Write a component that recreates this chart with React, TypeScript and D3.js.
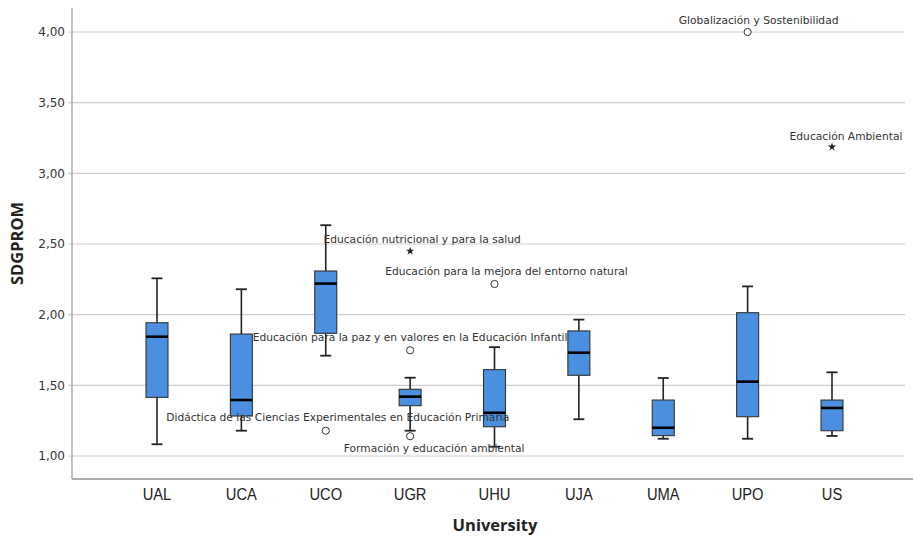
import React from "react";
import * as d3 from "d3";

const universities = ["UAL", "UCA", "UCO", "UGR", "UHU", "UJA", "UMA", "UPO", "US"];
const whiskerLow = [1.083, 1.179, 1.71, 1.179, 1.066, 1.26, 1.122, 1.122, 1.142];
const q1 = [1.415, 1.283, 1.868, 1.356, 1.207, 1.571, 1.144, 1.278, 1.179];
const median = [1.844, 1.396, 2.22, 1.42, 1.306, 1.731, 1.2, 1.526, 1.34];
const q3 = [1.943, 1.863, 2.309, 1.472, 1.611, 1.885, 1.396, 2.014, 1.396];
const whiskerHigh = [2.257, 2.18, 2.633, 1.554, 1.77, 1.965, 1.552, 2.2, 1.592];

const outlierUniversity = ["UCO", "UGR", "UGR", "UGR", "UHU", "UPO", "US"];
const outlierValue = [1.179, 2.45, 1.748, 1.14, 2.217, 4.0, 3.187];
const outlierKind = ["circle", "star", "circle", "circle", "circle", "circle", "star"];
const outlierLabel = [
  "Didáctica de las Ciencias Experimentales en Educación Primaria",
  "Educación nutricional y para la salud",
  "Educación para la paz y en valores en la Educación Infantil",
  "Formación y educación ambiental",
  "Educación para la mejora del entorno natural",
  "Globalización y Sostenibilidad",
  "Educación Ambiental",
];
// label offsets relative to the point (px)
const labelDx = [12, 12, 0, 24, 12, 11, 14];
const labelDy = [-13, -12, -13, 12, -13, -12, -11];

const yTicks = [1.0, 1.5, 2.0, 2.5, 3.0, 3.5, 4.0];

const W = 913;
const H = 541;
const left = 72;
const right = 905;
const top = 8;
const bottom = 479;

export default function App() {
  const x = d3
    .scalePoint<string>()
    .domain(universities)
    .range([157, 832]);
  const y = d3.scaleLinear().domain([1, 4]).range([456, 32]);
  const fmt = (v: number) => d3.format(".2f")(v).replace(".", ",");
  const boxW = 22;
  const capW = 11;
  const labelFont = "'DejaVu Sans', sans-serif";
  const star = d3.symbol().type(d3.symbolStar).size(22)() as string;

  return (
    <svg width={W} height={H} style={{ position: "absolute", left: 0, top: 0, background: "#fff" }}>
      <rect x={0} y={0} width={W} height={H} fill="#fff" />
      {yTicks.map((t) => (
        <g key={t}>
          <line x1={left - 4} x2={right} y1={y(t)} y2={y(t)} stroke="#cfcfcf" strokeWidth={1.2} />
          <text
            x={left - 7}
            y={y(t)}
            dy="0.35em"
            textAnchor="end"
            fontSize={12}
            fill="#333"
            fontFamily={labelFont}
          >
            {fmt(t)}
          </text>
        </g>
      ))}
      <line x1={left} x2={left} y1={top} y2={bottom} stroke="#aaa" strokeWidth={1.5} />
      <line x1={left} x2={W} y1={bottom} y2={bottom} stroke="#aaa" strokeWidth={2} />

      {universities.map((u, i) => {
        const cx = x(u) as number;
        return (
          <g key={u}>
            <line x1={cx} x2={cx} y1={y(whiskerHigh[i])} y2={y(q3[i])} stroke="#222" strokeWidth={1.6} />
            <line x1={cx} x2={cx} y1={y(q1[i])} y2={y(whiskerLow[i])} stroke="#222" strokeWidth={1.6} />
            <line
              x1={cx - capW / 2}
              x2={cx + capW / 2}
              y1={y(whiskerHigh[i])}
              y2={y(whiskerHigh[i])}
              stroke="#222"
              strokeWidth={1.8}
            />
            <line
              x1={cx - capW / 2}
              x2={cx + capW / 2}
              y1={y(whiskerLow[i])}
              y2={y(whiskerLow[i])}
              stroke="#222"
              strokeWidth={1.8}
            />
            <rect
              x={cx - boxW / 2}
              y={y(q3[i])}
              width={boxW}
              height={y(q1[i]) - y(q3[i])}
              fill="#4a8fe0"
              stroke="#333"
              strokeWidth={1.1}
            />
            <line
              x1={cx - boxW / 2}
              x2={cx + boxW / 2}
              y1={y(median[i])}
              y2={y(median[i])}
              stroke="#000"
              strokeWidth={2.6}
            />
            <text
              x={cx}
              y={bottom + 21}
              textAnchor="middle"
              fontSize={16}
              fill="#222"
              fontFamily="'Liberation Sans Narrow', 'Liberation Sans', sans-serif"
              transform={`translate(${cx},0) scale(0.92,1) translate(${-cx},0)`}
            >
              {u}
            </text>
          </g>
        );
      })}

      {outlierValue.map((v, i) => {
        const cx = x(outlierUniversity[i]) as number;
        const cy = y(v);
        return (
          <g key={i}>
            {outlierKind[i] === "circle" ? (
              <circle cx={cx} cy={cy} r={3.6} fill="#fff" stroke="#333" strokeWidth={1} />
            ) : (
              <path d={star} transform={`translate(${cx},${cy})`} fill="#222" />
            )}
            <text
              x={cx + labelDx[i]}
              y={cy + labelDy[i]}
              dy="0.35em"
              textAnchor="middle"
              fontSize={10.7}
              fill="#333"
              fontFamily={labelFont}
            >
              {outlierLabel[i]}
            </text>
          </g>
        );
      })}

      <text
        x={495}
        y={531}
        textAnchor="middle"
        fontSize={16.5}
        fontWeight="bold"
        fill="#222"
        fontFamily="'Open Sans', sans-serif"
      >
        University
      </text>
      <text
        transform={`translate(23,${(top + bottom) / 2}) rotate(-90)`}
        textAnchor="middle"
        fontSize={16.5}
        fontWeight="bold"
        fill="#222"
        fontFamily="'Open Sans', sans-serif"
      >
        SDGPROM
      </text>
    </svg>
  );
}
